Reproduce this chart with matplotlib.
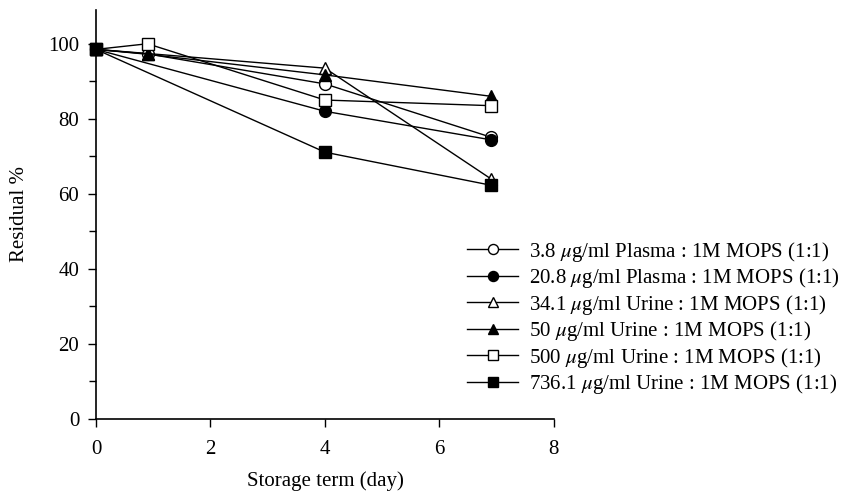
import matplotlib
matplotlib.use("Agg")
import matplotlib.pyplot as plt
from matplotlib.ticker import MultipleLocator

plt.rcParams['font.family'] = ['Liberation Serif', 'DejaVu Serif']
plt.rcParams['mathtext.fontset'] = 'stix'

labels = [
    r"3.8 $\mu$g/ml Plasma : 1M MOPS (1:1)",
    r"20.8 $\mu$g/ml Plasma : 1M MOPS (1:1)",
    r"34.1 $\mu$g/ml Urine : 1M MOPS (1:1)",
    r"50 $\mu$g/ml Urine : 1M MOPS (1:1)",
    r"500 $\mu$g/ml Urine : 1M MOPS (1:1)",
    r"736.1 $\mu$g/ml Urine : 1M MOPS (1:1)",
]
days = [
    [0, 0.9, 4, 6.9],
    [0, 4, 6.9],
    [0, 0.9, 4, 6.9],
    [0, 0.9, 4, 6.9],
    [0, 0.9, 4, 6.9],
    [0, 4, 6.9],
]
residual = [
    [98.5, 97.3, 89.3, 75.1],
    [98.5, 82.0, 74.4],
    [98.5, 97.4, 93.5, 64.0],
    [98.5, 97.2, 91.7, 86.0],
    [98.5, 100.0, 85.0, 83.5],
    [98.5, 71.1, 62.3],
]
markers = ['o', 'o', '^', '^', 's', 's']
fills = ['white', 'black', 'white', 'black', 'white', 'black']

fig = plt.figure(figsize=(8.48, 4.94), dpi=100)
ax = fig.add_axes([0.1132, 0.1518, 0.540, 0.828])

for x, y, lab, m, fc in zip(days, residual, labels, markers, fills):
    ax.plot(x, y, color='black', lw=1.0, marker=m, markersize=8 if m != 'o' else 8.5,
            markerfacecolor=fc, markeredgecolor='black', markeredgewidth=1.0,
            label=lab, clip_on=False)

ax.set_xlim(0, 8)
ax.set_ylim(0, 109)
ax.xaxis.set_major_locator(MultipleLocator(2))
ax.yaxis.set_major_locator(MultipleLocator(20))
ax.yaxis.set_minor_locator(MultipleLocator(10))
for s in ['top', 'right']:
    ax.spines[s].set_visible(False)
for s in ['left', 'bottom']:
    ax.spines[s].set_linewidth(1.2)
ax.tick_params(axis='both', which='major', direction='out', length=6, width=1.0,
               labelsize=15)
ax.tick_params(axis='x', which='major', pad=9)
ax.tick_params(axis='y', which='major', pad=6)
ax.tick_params(axis='y', which='minor', direction='out', length=5, width=1.0)

ax.set_xlabel('Storage term (day)', fontsize=15, labelpad=9)
ax.set_ylabel('Residual %', fontsize=15, labelpad=14)

leg = fig.legend(loc='upper left', bbox_to_anchor=(0.5507, 0.515), frameon=False,
                 fontsize=15, handlelength=2.45, handletextpad=0.55,
                 labelspacing=0.12, borderaxespad=0, borderpad=0, markerscale=0.85)

fig.savefig('out.png', dpi=100)
